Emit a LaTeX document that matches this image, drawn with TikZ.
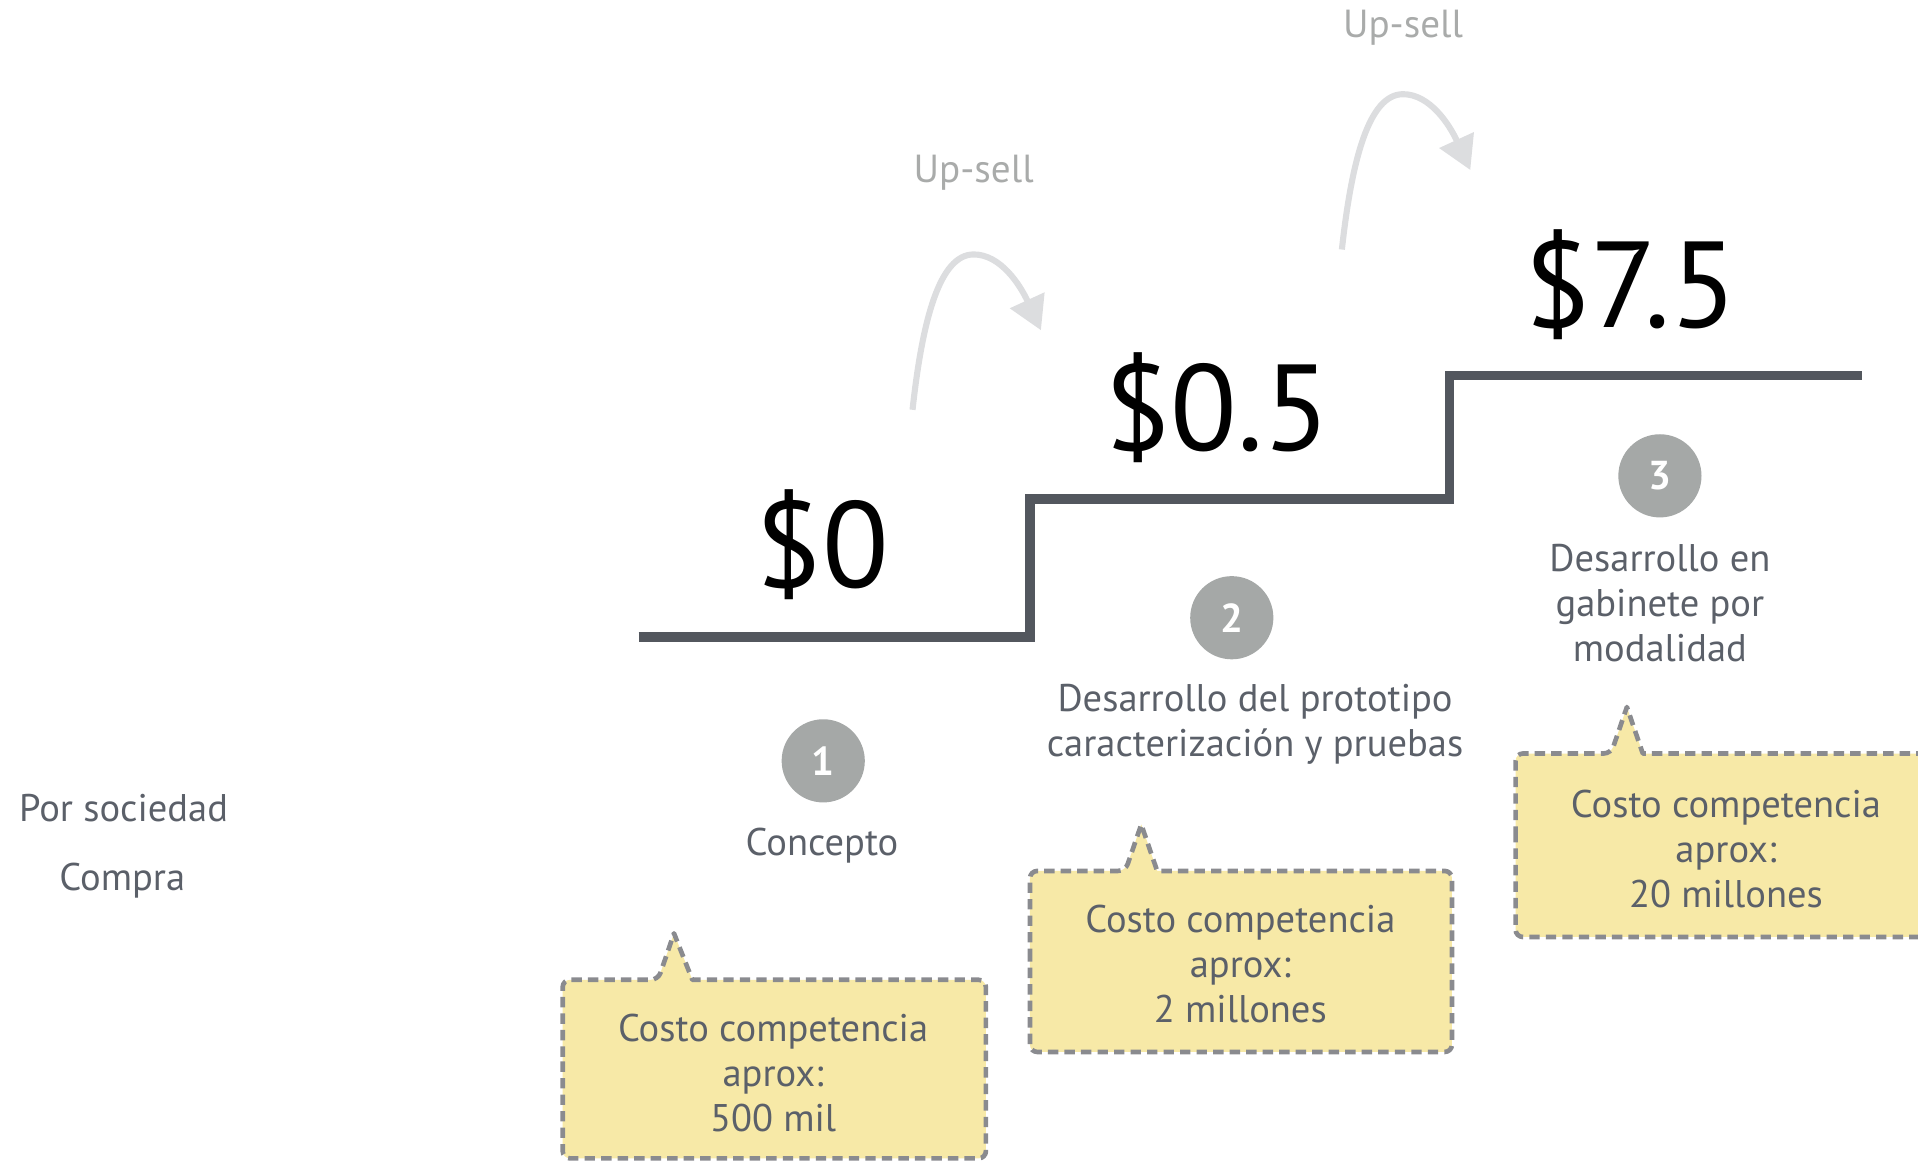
\documentclass[tikz,border=0pt]{standalone}
\usepackage{fontspec}
\setmainfont{PT Sans}
\usetikzlibrary{arrows.meta}
\definecolor{stair}{HTML}{53575E}
\definecolor{circ}{HTML}{A5A8A7}
\definecolor{lbl}{HTML}{5B6069}
\definecolor{upc}{HTML}{A9ABAA}
\definecolor{arrc}{HTML}{DCDDDF}
\definecolor{yel}{HTML}{F7E9A7}
\definecolor{bord}{HTML}{8A8B8F}
\tikzset{
  lbltext/.style={text=lbl, font=\fontsize{31.5}{37}\selectfont, align=center, inner sep=0pt},
  bigval/.style={text=black, font=\fontsize{100}{110}\selectfont, inner sep=0pt},
  uptext/.style={text=upc, font=\fontsize{32}{37}\selectfont, inner sep=0pt},
  numcirc/.style={circle, fill=circ, minimum size=68pt, inner sep=0pt, text=white, font=\fontsize{33}{33}\selectfont\bfseries},
  callout/.style={fill=yel, draw=bord, line width=3.8pt, dash pattern=on 8.5pt off 5pt, line join=round},
  stairline/.style={draw=stair, line width=8pt},
  upsellarrow/.style={draw=arrc, line width=5pt, -{Triangle[length=27pt,width=30pt]}}
}
\begin{document}
\begin{tikzpicture}[x=1pt,y=-1pt]
\useasboundingbox (0,0) rectangle (1568,950);
\clip (0,0) rectangle (1568,950);

% left labels
\node[lbltext] (por) at (101,661) {Por sociedad};
\node[lbltext] (compra) at (100,720) {Compra};

% staircase
\coordinate (s0) at (522,521);
\coordinate (s1) at (842,521);
\coordinate (s2) at (842,408);
\coordinate (s3) at (1185,408);
\coordinate (s4) at (1185,307);
\coordinate (s5) at (1522,307);
\draw[stairline] (s0) -- (s1) -- (s2) -- (s3) -- (s4) -- (s5);

% values
\node[bigval] (v0) at (672,445) {\$0};
\node[bigval] (v1) at (995,333) {\$0.5};
\node[bigval] (v2) at (1333,233) {\$7.5};

% up-sell arrows
\node[uptext] (up1) at (796,141) {Up-sell};
\node[uptext] (up2) at (1147,23) {Up-sell};
\coordinate (a1s) at (746,335);
\coordinate (a1p) at (796,208);
\coordinate (a1e) at (851,270);
\draw[upsellarrow] (a1s) .. controls (754,262) and (768,208) .. (a1p) .. controls (818,208) and (834,233) .. (a1e);
\coordinate (a2s) at (1097,204);
\coordinate (a2p) at (1147,77);
\coordinate (a2e) at (1202,139);
\draw[upsellarrow] (a2s) .. controls (1105,131) and (1119,77) .. (a2p) .. controls (1169,77) and (1185,102) .. (a2e);

% circles
\node[numcirc] (c1) at (673,622) {1};
\node[numcirc] (c2) at (1007,505) {2};
\node[numcirc] (c3) at (1357,389) {3};

% step labels
\node[lbltext] (l1) at (672,691) {Concepto};
\node[lbltext] (l2) at (1026,592) {Desarrollo del prototipo\\caracterización y pruebas};
\node[lbltext] (l3) at (1357,493) {Desarrollo en\\gabinete por\\modalidad};

% callouts
\draw[callout, rounded corners=6pt] (460,870) -- (460,801) -- (538,801) [sharp corners] -- (551,763) -- (566,801) [rounded corners=6pt] -- (806,801) -- (806,947) -- (460,947) -- cycle;
\node[lbltext] (b1) at (632,877) {Costo competencia\\aprox:\\500 mil};

\draw[callout, rounded corners=6pt] (842,790) -- (842,712) -- (920,712) [sharp corners] -- (933,674) -- (946,712) [rounded corners=6pt] -- (1187,712) -- (1187,860) -- (842,860) -- cycle;
\node[lbltext] (b2) at (1014,788) {Costo competencia\\aprox:\\2 millones};

\draw[callout, rounded corners=6pt] (1239,690) -- (1239,616) -- (1317,616) [sharp corners] -- (1330,578) -- (1343,616) [rounded corners=6pt] -- (1590,616) -- (1590,766) -- (1239,766) -- cycle;
\node[lbltext] (b3) at (1411,694) {Costo competencia\\aprox:\\20 millones};
\end{tikzpicture}
\end{document}
